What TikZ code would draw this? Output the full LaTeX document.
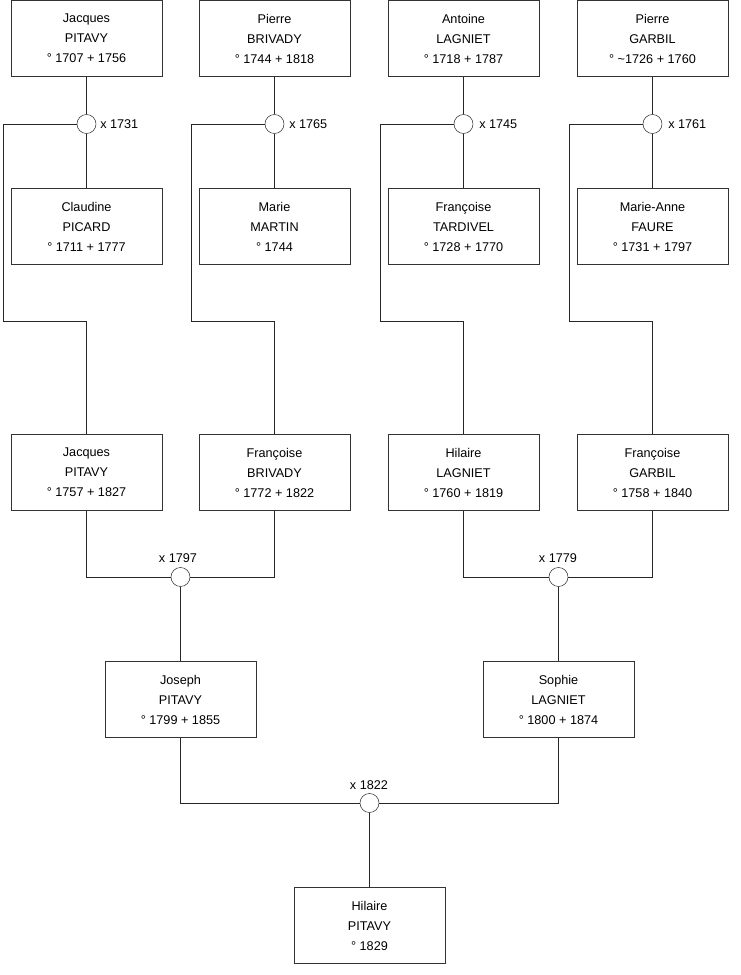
\documentclass[tikz,border=0pt]{standalone}
\usepackage{fontspec}
\setmainfont{Liberation Sans}

\begin{document}
\begin{tikzpicture}[x=0.75pt,y=-0.75pt,
  person/.style={draw=black!80,fill=white,minimum width=113.25pt,minimum height=57pt,
    align=center,inner sep=0pt,font=\fontsize{9.5}{15}\selectfont},
  union/.style={circle,draw=black!80,fill=white,minimum size=14.25pt,inner sep=0pt},
  year/.style={inner sep=0pt,font=\fontsize{9.5}{11}\selectfont},
  link/.style={draw=black!85,line width=0.6pt}]
  \useasboundingbox (0,0) rectangle (740,975);

  % generation 1
  \node[person] (jacques1) at (86.5,38.5) {Jacques\\PITAVY\\° 1707 + 1756};
  \node[person] (pierre1) at (274.5,38.5) {Pierre\\BRIVADY\\° 1744 + 1818};
  \node[person] (antoine) at (463.5,38.5) {Antoine\\LAGNIET\\° 1718 + 1787};
  \node[person] (pierre2) at (652.5,38.5) {Pierre\\GARBIL\\° \textasciitilde1726 + 1760};

  \node[person] (claudine) at (86.5,226.5) {Claudine\\PICARD\\° 1711 + 1777};
  \node[person] (marie) at (274.5,226.5) {Marie\\MARTIN\\° 1744};
  \node[person] (francoise1) at (463.5,226.5) {Françoise\\TARDIVEL\\° 1728 + 1770};
  \node[person] (marieanne) at (652.5,226.5) {Marie-Anne\\FAURE\\° 1731 + 1797};

  % generation 2
  \node[person] (jacques2) at (86.5,472.5) {Jacques\\PITAVY\\° 1757 + 1827};
  \node[person] (francoise2) at (274.5,472.5) {Françoise\\BRIVADY\\° 1772 + 1822};
  \node[person] (hilaire1) at (463.5,472.5) {Hilaire\\LAGNIET\\° 1760 + 1819};
  \node[person] (francoise3) at (652.5,472.5) {Françoise\\GARBIL\\° 1758 + 1840};

  % generation 3 and 4
  \node[person] (joseph) at (180.5,699.5) {Joseph\\PITAVY\\° 1799 + 1855};
  \node[person] (sophie) at (558.5,699.5) {Sophie\\LAGNIET\\° 1800 + 1874};
  \node[person] (hilaire2) at (369.5,925.5) {Hilaire\\PITAVY\\° 1829};

  % marriages
  \node[union] (m1731) at (86.5,124) {};
  \node[union] (m1765) at (274.5,124) {};
  \node[union] (m1745) at (463.5,124) {};
  \node[union] (m1761) at (652.5,124) {};
  \node[union] (m1797) at (180.5,577) {};
  \node[union] (m1779) at (558.5,577) {};
  \node[union] (m1822) at (369.5,803) {};

  \node[year,anchor=west] (y1731) at (100,124) {x 1731};
  \node[year,anchor=west] (y1765) at (289,124) {x 1765};
  \node[year,anchor=west] (y1745) at (479,124) {x 1745};
  \node[year,anchor=west] (y1761) at (668,124) {x 1761};
  \node[year] (y1797) at (178,558) {x 1797};
  \node[year] (y1779) at (558,558) {x 1779};
  \node[year] (y1822) at (369,785) {x 1822};

  \coordinate (k1) at (3,321);
  \coordinate (k2) at (191,321);
  \coordinate (k3) at (380,321);
  \coordinate (k4) at (569,321);

  % couples to children
  \path[link] (jacques1) -- (m1731) -- (claudine);
  \path[link] (pierre1) -- (m1765) -- (marie);
  \path[link] (antoine) -- (m1745) -- (francoise1);
  \path[link] (pierre2) -- (m1761) -- (marieanne);
  \path[link] (m1731.west) -| (k1) -| (jacques2.north);
  \path[link] (m1765.west) -| (k2) -| (francoise2.north);
  \path[link] (m1745.west) -| (k3) -| (hilaire1.north);
  \path[link] (m1761.west) -| (k4) -| (francoise3.north);

  \path[link] (jacques2.south) |- (m1797.west);
  \path[link] (francoise2.south) |- (m1797.east);
  \path[link] (hilaire1.south) |- (m1779.west);
  \path[link] (francoise3.south) |- (m1779.east);
  \path[link] (m1797) -- (joseph);
  \path[link] (m1779) -- (sophie);

  \path[link] (joseph.south) |- (m1822.west);
  \path[link] (sophie.south) |- (m1822.east);
  \path[link] (m1822) -- (hilaire2);
\end{tikzpicture}
\end{document}
